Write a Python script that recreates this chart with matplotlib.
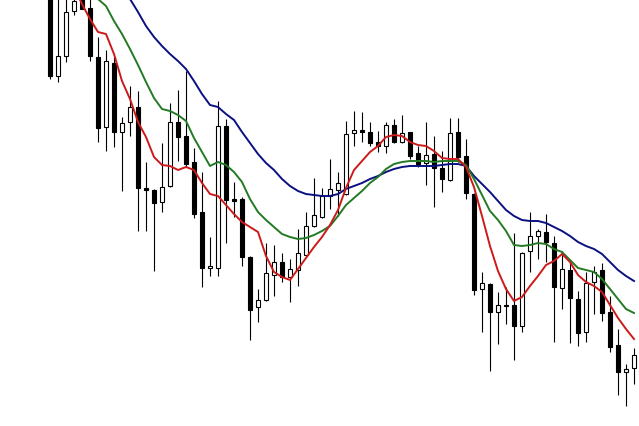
import matplotlib
matplotlib.use("Agg")
import matplotlib.pyplot as plt
import numpy as np

# Candle readings (screen rows, top = 0), one per bar, left to right
opens = [-2, 77, 57, 12, -1, 9, 58, 128, 64, 133,
         123, 108, 189, 191, 203, 187, 123, 137, 163, 213,
         269, 269, 127, 200, 200, 258, 308, 301, 276, 263,
         278, 271, 256, 227, 218, 197, 191, 195, 134, 131,
         133, 143, 147, 126, 143, 133, 154, 164, 155, 169,
         181, 133, 157, 195, 290, 285, 313, 306, 306, 327,
         252, 237, 233, 244, 289, 271, 300, 333, 283, 271,
         313, 346, 373, 369]
highs = [-5, -2, -2, -3, -3, -2, 38, 51, 58, 118,
         87, 92, 163, 190, 144, 104, 91, 72, 149, 173,
         238, 102, 120, 183, 198, 257, 290, 244, 246, 254,
         260, 230, 213, 179, 189, 160, 173, 122, 112, 113,
         123, 132, 123, 120, 116, 133, 147, 123, 137, 152,
         119, 119, 140, 194, 273, 284, 293, 288, 234, 253,
         213, 230, 215, 237, 252, 263, 292, 273, 267, 264,
         297, 330, 365, 349]
lows = [80, 83, 63, 16, 10, 62, 143, 152, 148, 192,
        137, 232, 232, 272, 213, 188, 162, 168, 219, 288,
        277, 277, 244, 218, 267, 341, 323, 302, 297, 283,
        303, 287, 257, 228, 219, 210, 217, 196, 147, 143,
        147, 153, 154, 144, 144, 160, 168, 186, 208, 193,
        182, 163, 200, 296, 333, 372, 345, 325, 361, 333,
        273, 260, 263, 343, 310, 344, 347, 343, 315, 322,
        353, 396, 407, 385]
closes = [77, 57, 13, 2, 10, 57, 129, 62, 133, 124,
          108, 189, 191, 204, 188, 123, 138, 165, 215, 269,
          267, 127, 201, 202, 258, 311, 301, 274, 263, 278,
          270, 254, 227, 216, 197, 190, 184, 135, 131, 133,
          144, 147, 126, 143, 134, 157, 165, 156, 169, 180,
          134, 158, 194, 291, 284, 313, 306, 307, 327, 254,
          237, 232, 243, 288, 270, 299, 334, 284, 273, 314,
          348, 373, 370, 356]

# Moving averages at each bar
ma_fast = [-60, -45, -30, -12, 5, 20, 33, 35, 55, 82,
           100, 123, 138, 158, 166, 167, 171, 168, 171, 184,
           195, 197, 206, 215, 223, 228, 233, 257, 273, 278,
           281, 270, 259, 248, 238, 226, 211, 189, 171, 162,
           153, 147, 138, 136, 137, 143, 146, 147, 152, 159,
           160, 160, 168, 188, 217, 247, 272, 290, 302, 298,
           287, 277, 266, 262, 255, 263, 276, 283, 287, 293,
           306, 319, 330, 340]
ma_mid = [-90, -75, -60, -45, -30, -13, 0, 7, 22, 35,
          50, 66, 83, 99, 110, 112, 116, 122, 139, 153,
          167, 163, 166, 173, 183, 200, 213, 221, 228, 235,
          238, 240, 239, 236, 232, 227, 217, 206, 199, 192,
          184, 178, 170, 165, 163, 162, 162, 162, 163, 162,
          162, 162, 166, 180, 196, 212, 221, 232, 246, 247,
          246, 244, 245, 250, 253, 261, 269, 271, 273, 280,
          290, 300, 310, 314]
ma_slow = [-131, -118, -105, -92, -79, -66, -53, -40, -26, -13,
           0, 13, 27, 38, 47, 55, 62, 70, 82, 95,
           106, 108, 115, 121, 133, 144, 155, 164, 171, 180,
           187, 192, 195, 196, 197, 197, 195, 190, 187, 184,
           180, 177, 173, 170, 168, 167, 167, 167, 167, 166,
           165, 165, 167, 177, 185, 193, 202, 211, 217, 221,
           222, 222, 224, 228, 232, 237, 243, 247, 250, 255,
           263, 271, 277, 282]

opens = np.array(opens)
closes = np.array(closes)
x = np.arange(len(opens))
up = closes < opens  # rows grow downward, so a smaller close is a rising bar

fig = plt.figure(figsize=(6.39, 4.27), dpi=100)
ax = fig.add_axes([0, 0, 1, 1])

# wicks first, bodies on top
ax.vlines(x, highs, lows, color="black", linewidth=0.8, zorder=1)
body_top = np.minimum(opens, closes)
body_h = np.abs(opens - closes)
ax.bar(x[up], body_h[up], bottom=body_top[up], width=0.6,
       color="white", edgecolor="black", linewidth=0.8, zorder=2)
ax.bar(x[~up], body_h[~up], bottom=body_top[~up], width=0.6,
       color="black", edgecolor="black", linewidth=0.8, zorder=2)

ax.plot(x, ma_slow, color="#0a1080", linewidth=1.4, zorder=3)
ax.plot(x, ma_mid, color="#237a23", linewidth=1.4, zorder=3)
ax.plot(x, ma_fast, color="#cc1a1a", linewidth=1.4, zorder=3)

ax.set_xlim(-6.25, 73.625)
ax.set_ylim(427, 0)
ax.axis("off")

fig.savefig("out.png", dpi=100, facecolor="white")
